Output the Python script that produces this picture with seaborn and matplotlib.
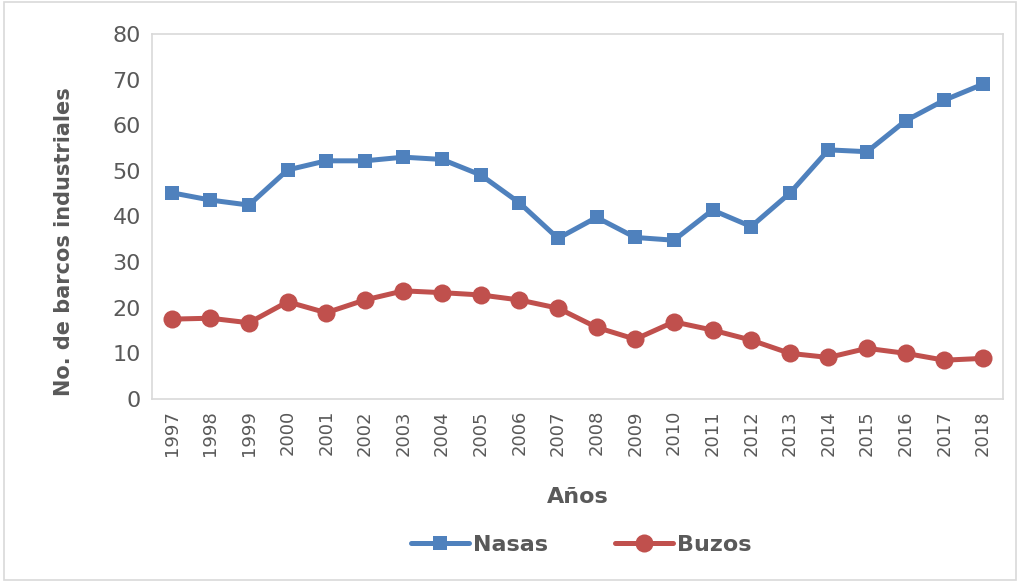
import pandas as pd
import matplotlib.pyplot as plt
import seaborn as sns
from matplotlib.patches import Rectangle

# Data
years = list(range(1997, 2019))
nasas = [45.2, 43.6, 42.5, 50.2, 52.2, 52.2, 53.0, 52.5, 49.1, 43.0, 35.2,
         39.8, 35.4, 34.8, 41.4, 37.8, 45.1, 54.6, 54.2, 61.0, 65.5, 69.0]
buzos = [17.5, 17.7, 16.7, 21.3, 18.9, 21.7, 23.7, 23.3, 22.8, 21.7, 19.9,
         15.7, 13.1, 16.9, 15.1, 12.9, 10.0, 9.1, 11.1, 10.0, 8.5, 8.9]

df = pd.DataFrame({'Año': years * 2,
                   'Valor': nasas + buzos,
                   'Serie': ['Nasas'] * len(years) + ['Buzos'] * len(years)})

sns.set_style('white')
plt.rcParams['font.family'] = ['DejaVu Sans']
gray = '#595959'

fig = plt.figure(figsize=(10.2, 5.81), dpi=100)
ax = fig.add_axes([0.149, 0.3133, 0.834, 0.6282])

# Series
sns.lineplot(data=df[df['Serie'] == 'Nasas'], x='Año', y='Valor', color='#4F81BD',
             marker='s', markersize=10, linewidth=3.6, markeredgewidth=0,
             label='Nasas', ax=ax)
sns.lineplot(data=df[df['Serie'] == 'Buzos'], x='Año', y='Valor', color='#C0504D',
             marker='o', markersize=13, linewidth=3.6, markeredgewidth=0,
             label='Buzos', ax=ax)

ax.set_xlim(1996.49, 2018.51)
ax.set_ylim(0, 80)
ax.set_xticks(years)
ax.set_xticklabels([str(y) for y in years], rotation=90, fontsize=13, color=gray)
ax.set_yticks(range(0, 81, 10))
ax.set_yticklabels([str(v) for v in range(0, 81, 10)], fontsize=16, color=gray)
ax.tick_params(axis='both', length=0, pad=8)

ax.set_xlabel('Años', fontsize=16, fontweight='bold', color=gray, labelpad=22)
ax.set_ylabel('No. de barcos industriales', fontsize=15, fontweight='bold',
              color=gray)
ax.yaxis.set_label_coords(-0.092, 0.43)

for s in ax.spines.values():
    s.set_color('#d9d9d9')
    s.set_linewidth(1.2)

ax.get_legend().remove()
handles, labels = ax.get_legend_handles_labels()
leg = fig.legend(handles, labels, loc='center', bbox_to_anchor=(0.57, 0.062),
                 ncol=2, frameon=False, fontsize=16, handlelength=2.6,
                 columnspacing=3, handletextpad=0.2)
for t in leg.get_texts():
    t.set_fontweight('bold')
    t.set_color(gray)

# outer chart border
fig.patches.append(Rectangle((0.004, 0.002), 0.992, 0.994, transform=fig.transFigure,
                             fill=False, edgecolor='#d9d9d9', linewidth=1.2))

fig.savefig('out.png', dpi=100)
